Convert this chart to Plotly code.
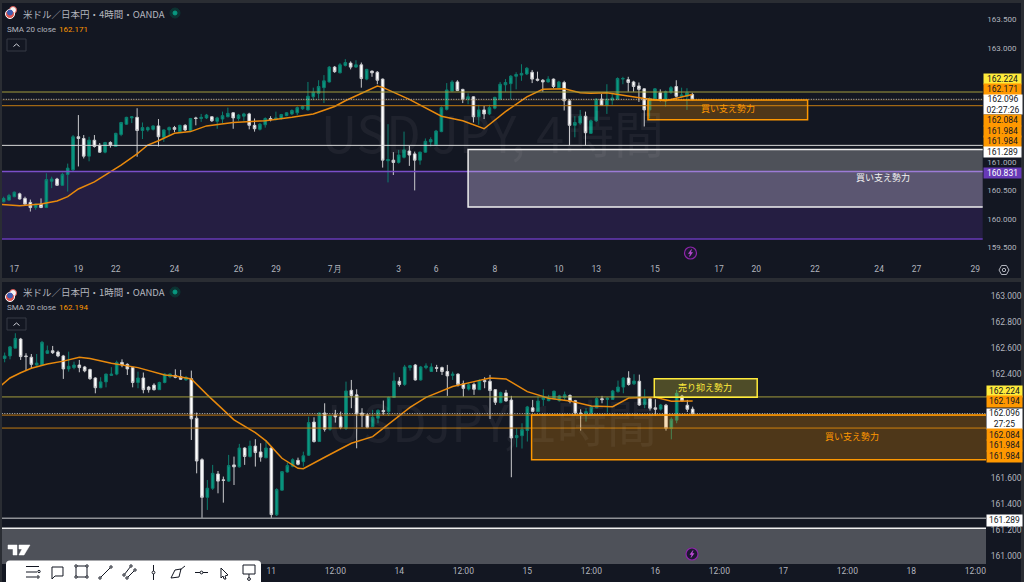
import plotly.graph_objs as go

# 4時間足
open_4h = [160.30,160.33,160.39,160.44,160.36,160.29,160.20,160.26,160.20,160.66,
           160.70,160.59,160.78,160.86,161.44,161.41,161.10,161.38,161.29,161.17,
           161.34,161.27,161.48,161.66,161.77,161.78,161.55,161.56,161.57,161.63,
           161.43,161.56,161.60,161.53,161.64,161.55,161.77,161.76,161.77,161.79,
           161.71,161.75,161.79,161.86,161.76,161.80,161.84,161.64,161.57,161.65,
           161.76,161.74,161.76,161.81,161.84,161.86,161.93,161.91,162.14,162.20,
           162.30,162.40,162.66,162.56,162.69,162.73,162.66,162.70,162.45,162.59,
           162.57,162.45,161.02,161.03,160.99,161.08,161.19,161.14,161.03,161.17,
           161.35,161.30,161.53,161.92,162.24,162.40,162.27,162.10,162.14,161.79,
           161.91,161.84,161.94,162.10,162.35,162.37,162.50,162.52,162.54,162.57,
           162.45,162.43,162.40,162.45,162.30,162.39,162.07,161.64,161.68,161.80,
           161.50,161.72,162.10,161.99,162.08,162.10,162.45,162.44,162.40,162.33,
           162.28,161.91,162.11,162.21,162.08,162.22,162.32,162.15,162.15,162.18]
close_4h = [160.36,160.41,160.47,160.35,160.26,160.20,160.26,160.20,160.69,160.70,
            160.59,160.78,160.89,161.44,161.41,161.10,161.38,161.27,161.17,161.34,
            161.30,161.50,161.69,161.78,161.79,161.55,161.60,161.60,161.63,161.44,
            161.56,161.60,161.57,161.64,161.56,161.76,161.76,161.78,161.82,161.72,
            161.77,161.81,161.85,161.77,161.82,161.84,161.64,161.58,161.66,161.76,
            161.74,161.77,161.83,161.86,161.90,161.95,161.97,162.15,162.22,162.32,
            162.42,162.66,162.58,162.70,162.74,162.66,162.70,162.46,162.62,162.56,
            162.43,161.03,161.04,160.99,161.12,161.21,161.12,161.03,161.17,161.36,
            161.39,161.54,161.95,162.26,162.40,162.25,162.10,162.14,161.79,161.91,
            161.84,161.95,162.13,162.36,162.39,162.50,162.53,162.55,162.64,162.45,
            162.43,162.40,162.45,162.32,162.40,162.07,161.64,161.69,161.80,161.51,
            161.72,162.10,161.99,162.10,162.12,162.46,162.46,162.39,162.32,162.27,
            161.91,162.11,162.28,162.08,162.23,162.30,162.15,162.17,162.21,162.096]
high_4h = [160.39,160.44,160.48,160.46,160.39,160.34,160.27,160.36,160.80,160.74,
           160.72,160.81,160.97,161.47,161.82,161.47,161.44,161.47,161.33,161.35,
           161.36,161.51,161.70,161.79,161.80,161.94,161.69,161.62,161.64,161.75,
           161.57,161.62,161.63,161.65,161.66,161.77,161.79,161.84,161.84,161.80,
           161.79,161.88,161.95,161.87,161.84,161.86,161.86,161.76,161.68,161.78,
           161.80,161.88,161.84,161.87,161.92,161.97,161.99,162.40,162.30,162.43,
           162.52,162.68,162.68,162.73,162.80,162.76,162.78,162.74,162.63,162.60,
           162.59,162.46,161.66,161.17,161.21,161.53,161.28,161.18,161.18,161.41,
           161.43,161.56,161.97,162.38,162.43,162.43,162.28,162.20,162.15,162.00,
           161.98,162.00,162.14,162.40,162.45,162.52,162.57,162.71,162.66,162.61,
           162.58,162.45,162.50,162.46,162.42,162.42,162.10,161.80,161.91,161.88,
           161.74,162.11,162.19,162.36,162.20,162.48,162.49,162.49,162.42,162.39,
           162.29,162.13,162.29,162.27,162.25,162.33,162.43,162.30,162.29,162.21]
low_4h = [160.29,160.32,160.38,160.34,160.25,160.13,160.16,160.19,160.19,160.54,
          160.58,160.58,160.48,160.83,160.92,161.06,161.01,161.25,161.16,161.15,
          161.25,161.26,161.45,161.65,161.68,161.09,161.40,161.53,161.55,161.27,
          161.35,161.47,161.52,161.52,161.54,161.54,161.64,161.70,161.75,161.70,
          161.58,161.68,161.78,161.58,161.72,161.72,161.57,161.53,161.55,161.60,
          161.71,161.73,161.74,161.80,161.82,161.82,161.91,161.90,162.08,162.11,
          162.03,162.39,162.56,162.55,162.67,162.62,162.65,162.30,162.43,162.49,
          162.36,160.90,160.64,160.77,160.97,161.06,160.93,160.50,160.95,161.16,
          161.27,161.30,161.52,161.90,162.23,162.24,162.03,162.01,161.69,161.65,
          161.75,161.82,161.92,162.08,162.23,162.10,162.27,162.42,162.52,162.38,
          162.41,162.23,162.39,162.29,162.29,161.90,161.29,161.43,161.65,161.29,
          161.49,161.70,161.98,161.84,162.00,162.08,162.36,162.23,162.23,162.05,
          161.62,161.76,162.08,162.06,161.97,162.19,162.13,162.13,161.91,162.08]
sma_x_4h = [-1,3,7,10,12,14,17,20,22,25,27,29,32,35,38,43,46,49,54,58,62,64,70,71,76,82,
            86,90,94,98,101,105,108,110,113,115,120,124,127,129]
sma_4h = [160.26,160.23,160.26,160.315,160.39,160.525,160.65,160.82,160.945,161.14,161.295,
          161.37,161.50,161.53,161.63,161.69,161.70,161.72,161.78,161.84,161.97,162.07,
          162.33,162.305,162.095,161.80,161.72,161.58,161.88,162.14,162.27,162.28,162.21,
          162.20,162.21,162.18,162.11,162.07,162.13,162.18]

# 1時間足
open_1h = [162.52,162.54,162.60,162.67,162.54,162.53,162.47,162.47,162.56,162.58,
           162.57,162.54,162.44,162.45,162.47,162.455,162.435,162.37,162.295,162.34,
           162.39,162.40,162.49,162.475,162.45,162.335,162.37,162.30,162.315,162.28,
           162.335,162.38,162.39,162.38,162.355,162.365,162.06,161.74,161.45,161.52,
           161.63,161.585,161.575,161.70,161.685,161.83,161.765,161.845,161.80,161.755,
           161.83,161.315,161.505,161.645,161.69,161.735,161.725,161.775,162.03,161.88,
           162.10,161.975,162.085,162.07,161.98,162.275,162.24,162.10,162.085,161.995,
           162.06,162.12,162.11,162.22,162.345,162.32,162.45,162.47,162.355,162.45,
           162.42,162.45,162.45,162.42,162.39,162.40,162.325,162.285,162.32,162.28,
           162.35,162.345,162.28,162.18,162.255,162.20,161.91,161.925,161.965,162.14,
           162.11,162.205,162.195,162.21,162.195,162.22,162.235,162.195,162.10,162.10,
           162.10,162.14,162.21,162.205,162.205,162.265,162.30,162.37,162.325,162.345,
           162.165,162.21,162.14,162.13,162.16,161.98,162.045,162.23,162.16,162.13]
close_1h = [162.54,162.61,162.675,162.535,162.535,162.475,162.485,162.645,162.58,162.565,
            162.54,162.44,162.46,162.47,162.45,162.425,162.365,162.295,162.34,162.40,
            162.40,162.49,162.47,162.44,162.335,162.37,162.28,162.28,162.28,162.335,
            162.40,162.40,162.375,162.36,162.375,162.055,161.73,161.45,161.52,161.635,
            161.575,161.58,161.695,161.685,161.83,161.765,161.845,161.795,161.76,161.83,
            161.317,161.51,161.648,161.695,161.74,161.705,161.77,162.026,161.88,162.10,
            161.975,162.08,162.07,161.99,162.27,162.235,162.093,162.08,161.99,162.067,
            162.12,162.11,162.22,162.347,162.32,162.455,162.465,162.355,162.455,162.463,
            162.455,162.445,162.42,162.386,162.40,162.32,162.29,162.317,162.283,162.347,
            162.342,162.273,162.183,162.257,162.193,161.908,161.926,161.972,162.147,162.113,
            162.193,162.221,162.216,162.268,162.232,162.24,162.188,162.10,162.095,162.11,
            162.144,162.211,162.203,162.214,162.27,162.30,162.37,162.32,162.347,162.162,
            162.209,162.137,162.129,162.162,161.982,162.052,162.252,162.193,162.129,162.096]
high_1h = [162.566,162.617,162.715,162.679,162.561,162.555,162.555,162.656,162.62,162.617,
           162.581,162.548,162.573,162.496,162.509,162.463,162.442,162.376,162.376,162.404,
           162.453,162.504,162.514,162.483,162.453,162.419,162.412,162.309,162.329,162.342,
           162.406,162.406,162.437,162.432,162.386,162.427,162.103,161.751,161.584,161.70,
           161.653,161.61,161.777,161.764,161.862,161.836,161.887,161.898,161.867,161.892,
           161.841,161.52,161.653,161.718,161.751,161.756,161.802,162.072,162.067,162.103,
           162.175,162.085,162.124,162.111,162.342,162.355,162.283,162.137,162.093,162.124,
           162.129,162.196,162.226,162.412,162.376,162.471,162.471,162.478,162.463,162.483,
           162.483,162.471,162.458,162.471,162.419,162.406,162.35,162.334,162.334,162.36,
           162.376,162.394,162.283,162.265,162.278,162.232,161.982,162.021,162.155,162.201,
           162.226,162.283,162.24,162.273,162.24,162.265,162.244,162.201,162.129,162.137,
           162.155,162.221,162.232,162.221,162.278,162.35,162.376,162.422,162.399,162.396,
           162.283,162.221,162.206,162.17,162.17,162.067,162.278,162.24,162.201,162.149]
low_1h = [162.491,162.514,162.599,162.509,162.427,162.445,162.463,162.465,162.555,162.555,
          162.53,162.363,162.419,162.437,162.414,162.414,162.355,162.252,162.291,162.298,
          162.393,162.391,162.453,162.393,162.298,162.291,162.252,162.257,162.273,162.278,
          162.329,162.368,162.368,162.355,162.35,161.892,161.635,161.286,161.353,161.507,
          161.481,161.409,161.569,161.545,161.679,161.70,161.756,161.687,161.725,161.751,
          161.286,161.306,161.502,161.641,161.682,161.697,161.687,161.769,161.872,161.877,
          161.957,161.964,162.026,161.975,161.969,162.137,161.828,161.99,161.982,161.99,
          162.021,162.085,162.077,162.216,162.304,162.309,162.427,162.35,162.35,162.437,
          162.417,162.417,162.393,162.232,162.355,162.304,162.226,162.273,162.24,162.278,
          162.291,162.054,162.162,162.175,162.188,161.605,161.836,161.826,161.88,162.106,
          162.108,162.155,162.191,162.206,162.188,162.196,162.175,162.085,161.964,162.034,
          162.093,162.137,162.175,162.103,162.201,162.257,162.252,162.311,162.316,162.155,
          162.137,162.119,162.077,162.119,161.964,161.897,162.021,162.185,162.108,162.083]
sma_x_1h = [-1,1,3,5,8,11,14,16,20,25,30,32,35,38,43,47,49,52,55,56,60,63,65,69,76,79,84,
            88,91,94,98,102,106,110,114,117,122,125,129]
sma_1h = [162.30,162.37,162.41,162.445,162.478,162.50,162.53,162.52,162.483,162.45,162.393,
          162.386,162.363,162.24,162.047,161.949,161.885,161.751,161.674,161.671,161.759,
          161.82,161.867,161.918,162.144,162.221,162.304,162.342,162.37,162.363,162.265,
          162.214,162.193,162.155,162.149,162.216,162.221,162.19,162.193]

tick_x_4h = [2,14,21,32,44,51,62,74,81,92,104,111,122,134,141,152,164,171,182]
tick_text_4h = ['17','19','22','24','26','29','7月','3','6','8','10','13','15','17','20','22','24','27','29']
tick_x_1h = [50,62,74,86,98,110,122,134,146,158,170,182]
tick_text_1h = ['11','12:00','14','12:00','15','12:00','16','12:00','17','12:00','18','12:00']
# 価格タグに隠れる目盛りは出さない
price_ticks_4h = [163.5,163.0,161.0,160.5,160.0,159.5]
price_ticks_1h = [163.0,162.8,162.6,162.4,161.6,161.4,161.2,161.0]

BG = '#131722'
GREEN = '#089981'
GREY = '#b2b5be'
ORANGE = '#ff9800'
YELLOW = '#ffeb3b'
PURPLE = '#673ab7'
JP = 'Noto Sans CJK JP'


def px(x):
    return x / 1024


def py(y):
    return 1 - y / 582


def pane_shape(x0, y0, x1, y1, color):
    return dict(type='rect', xref='paper', yref='paper', x0=px(x0), x1=px(x1), y0=py(y0), y1=py(y1),
                fillcolor=color, line=dict(width=0), layer='below')


def hline(axis, price, color, width=1, dash='solid', end=None):
    x = 'x' if axis == 1 else 'x2'
    y = 'y' if axis == 1 else 'y2'
    return dict(type='line', xref=x, yref=y, x0=-1, x1=end or 185, y0=price, y1=price,
                line=dict(color=color, width=width, dash=dash))


def box(axis, x0, x1, top, bottom, fill, border, width=1.5):
    x = 'x' if axis == 1 else 'x2'
    y = 'y' if axis == 1 else 'y2'
    return dict(type='rect', xref=x, yref=y, x0=x0, x1=x1, y0=bottom, y1=top,
                fillcolor=fill, line=dict(color=border, width=width))


def icon(d, color='#131722', width=1, fill=None):
    # d is a list of pixel points, path is drawn in paper coords
    path = 'M ' + ' L '.join(f'{px(a):.5f} {py(b):.5f}' for a, b in d)
    return dict(type='path', xref='paper', yref='paper', path=path, fillcolor=fill,
                line=dict(color=color, width=width))


def dot(x, y, r, fill, border=None, width=1):
    return dict(type='circle', xref='paper', yref='paper', x0=px(x - r), x1=px(x + r),
                y0=py(y + r), y1=py(y - r), fillcolor=fill,
                line=dict(color=border or fill, width=width))


def bolt(x, y):
    pts = [(1, -3.5), (-2, 0.5), (0, 0.5), (-1, 3.5), (2, -0.5), (0, -0.5), (1, -3.5)]
    return icon([(x + a, y + b) for a, b in pts], '#c850e0', 0.5, '#c850e0')


def candles(x, y, o, h, l, c):
    return go.Candlestick(x=list(range(len(o))), open=o, high=h, low=l, close=c,
                          xaxis=x, yaxis=y, whiskerwidth=0, showlegend=False,
                          increasing=dict(fillcolor=GREEN, line=dict(color='#0c7d6e', width=1)),
                          decreasing=dict(fillcolor='#ffffff', line=dict(color='#c9cacd', width=1)))


def tag(y0, y1, text, bg, fg='#131722', x0=983, x1=1020):
    return dict(xref='paper', yref='paper', x=px(x0), y=py(y0), xanchor='left', yanchor='top',
                width=x1 - x0, height=y1 - y0, text=text, showarrow=False, bgcolor=bg, borderpad=0,
                font=dict(family='Roboto', size=8.5, color=fg), align='center', valign='middle')


def label(x, y, text, color, size=9, family=JP, anchor='left'):
    return dict(xref='paper', yref='paper', x=px(x), y=py(y), xanchor=anchor, yanchor='middle',
                text=text, showarrow=False, font=dict(family=family, size=size, color=color))


fig_data = [
    candles('x', 'y', open_4h, high_4h, low_4h, close_4h),
    go.Scatter(x=sma_x_4h, y=sma_4h, mode='lines', xaxis='x', yaxis='y', showlegend=False,
               line=dict(color='#e8890c', width=1.5)),
    candles('x2', 'y2', open_1h, high_1h, low_1h, close_1h),
    go.Scatter(x=sma_x_1h, y=sma_1h, mode='lines', xaxis='x2', yaxis='y2', showlegend=False,
               line=dict(color='#e8890c', width=1.5)),
]

shapes = [
    pane_shape(2, 3, 1021, 278, BG),
    pane_shape(2, 282, 1021, 582, BG),
    # 紫のゾーン
    dict(type='rect', xref='x', yref='y', x0=-1, x1=185, y0=159.65, y1=160.831, fillcolor='#251e42',
         line=dict(width=0), layer='below'),
    hline(1, 160.831, '#7b4fc9', 1.5),
    hline(1, 159.65, PURPLE, 1.5),
    hline(1, 162.224, '#a39c3c'),
    hline(1, 162.084, 'rgba(194,122,18,0.5)', 0.7),
    hline(1, 162.096, '#bdbdbd', 1, '1px,1.5px'),
    hline(1, 161.984, '#c27a12'),
    hline(1, 161.289, '#d8d8d8'),
    box(1, 120.7, 150.6, 162.084, 161.74, 'rgba(255,152,0,0.25)', ORANGE),
    box(1, 87, 185, 161.216, 160.21, 'rgba(255,255,255,0.25)', '#f0f0f0'),
    hline(2, 162.224, '#a39c3c'),
    hline(2, 162.096, '#bdbdbd', 1, '1px,1.5px'),
    hline(2, 162.084, '#c27a12'),
    hline(2, 161.984, '#c27a12'),
    hline(2, 161.289, '#8f9196', 1.5),
    box(2, 98.8, 185, 162.084, 161.74, 'rgba(255,152,0,0.25)', ORANGE),
    box(2, 121.8, 141.1, 162.365, 162.221, 'rgba(255,235,59,0.25)', YELLOW),
    box(2, -1, 185, 161.211, 160.9, 'rgba(255,255,255,0.25)', '#f0f0f0'),
    # ヘッダーのアイコン
    dot(13, 10, 3.5, '#f5f5f5', '#d9534f'),
    dot(10, 14, 4.5, '#d9534f', '#ffffff'),
    dot(10, 12.5, 2.5, '#3b5db5'),
    dot(13, 293, 3.5, '#f5f5f5', '#d9534f'),
    dot(10, 297, 4.5, '#d9534f', '#ffffff'),
    dot(10, 295.5, 2.5, '#3b5db5'),
    dot(175, 13, 5, '#0c3433'),
    dot(175, 13, 2, GREEN),
    dot(175, 292, 5, '#0c3433'),
    dot(175, 292, 2, GREEN),
    # 折りたたみボタン
    dict(type='rect', xref='paper', yref='paper', x0=px(7), x1=px(26), y0=py(51), y1=py(39),
         line=dict(color='#363a45', width=1)),
    icon([(13.5, 46.5), (16.5, 44), (19.5, 46.5)], '#d1d4dc'),
    dict(type='rect', xref='paper', yref='paper', x0=px(7), x1=px(26), y0=py(330), y1=py(318),
         line=dict(color='#363a45', width=1)),
    icon([(13.5, 325.5), (16.5, 323), (19.5, 325.5)], '#d1d4dc'),
    # 稲妻アイコン
    dot(690.5, 253, 6, '#1c1830', '#8e24aa', 1.2),
    bolt(690.5, 253),
    dot(692, 554, 6, '#1c1830', '#8e24aa', 1.2),
    bolt(692, 554),
    # 設定アイコン
    icon([(999, 270), (1001.5, 265.5), (1006.5, 265.5), (1009, 270), (1006.5, 274.5), (1001.5, 274.5), (999, 270)],
         '#b2b5be'),
    dot(1004, 270, 1.7, BG, '#b2b5be'),
    # TVロゴ
    icon([(8, 545), (17, 545), (17, 555), (13, 555), (13, 549), (8, 549), (8, 545)], '#ffffff', 0.5, '#ffffff'),
    icon([(19, 545), (30, 545), (24, 555), (19, 555), (22, 549), (19, 549), (19, 545)], '#ffffff', 0.5, '#ffffff'),
    # 描画ツールバー
    dict(type='path', xref='paper', yref='paper', fillcolor='#ffffff', line=dict(width=0),
         path=f'M {px(6)} {py(582)} L {px(6)} {py(564)} Q {px(6)} {py(560.5)} {px(10)} {py(560.5)} '
              f'L {px(257)} {py(560.5)} Q {px(261)} {py(560.5)} {px(261)} {py(564)} L {px(261)} {py(582)} Z'),
    icon([(26, 566.5), (39, 566.5)]), icon([(26, 572), (37, 572)]), icon([(26, 577), (36, 577)]),
    dot(39, 571.5, 1.2, '#ffffff', '#131722'), dot(38, 577, 1.2, '#ffffff', '#131722'),
    icon([(52, 567), (63, 567), (63, 576), (55, 576), (52, 579), (52, 567)]),
    dict(type='rect', xref='paper', yref='paper', x0=px(76), x1=px(87), y0=py(577), y1=py(566),
         line=dict(color='#131722', width=1)),
    dot(76, 566, 1.2, '#ffffff', '#131722'), dot(87, 566, 1.2, '#ffffff', '#131722'),
    dot(76, 577, 1.2, '#ffffff', '#131722'), dot(87, 577, 1.2, '#ffffff', '#131722'),
    icon([(100, 578), (111, 567)]), dot(100, 578, 1.2, '#ffffff', '#131722'), dot(111, 567, 1.2, '#ffffff', '#131722'),
    icon([(124, 575), (131, 566)]), icon([(127, 578), (135, 570)]),
    dot(124, 575, 1.2, '#ffffff', '#131722'), dot(131, 566, 1.2, '#ffffff', '#131722'),
    dot(127, 578, 1.2, '#ffffff', '#131722'), dot(135, 570, 1.2, '#ffffff', '#131722'),
    icon([(153.5, 565), (153.5, 580)]), dot(153.5, 572.5, 1.4, '#ffffff', '#131722'),
    icon([(171, 578), (175, 570), (181, 569), (179, 577), (171, 578)]), icon([(180, 570), (185, 566)]),
    icon([(195, 572.5), (208, 572.5)]), dot(201.5, 572.5, 1.4, '#ffffff', '#131722'),
    icon([(221, 568), (228, 575), (225, 576), (226, 579), (224, 579), (223, 576), (221, 578), (221, 568)]),
    dict(type='rect', xref='paper', yref='paper', x0=px(243), x1=px(255), y0=py(574), y1=py(565),
         line=dict(color='#131722', width=1)),
    icon([(249, 574), (249, 578)]), dot(249, 579, 1.4, '#ffffff', '#131722'),
]

annotations = [
    # ウォーターマーク
    dict(xref='paper', yref='paper', x=px(492), y=py(131), xanchor='center', yanchor='middle', showarrow=False,
         text='USD JPY, 4時間', font=dict(family=JP, size=50, color='rgba(255,255,255,0.05)')),
    dict(xref='paper', yref='paper', x=px(492), y=py(420), xanchor='center', yanchor='middle', showarrow=False,
         text='USDJPY, 1時間', font=dict(family=JP, size=50, color='rgba(255,255,255,0.05)')),
    label(21, 14, '米ドル／日本円・4時間・OANDA', GREY, 9.5),
    label(5, 29.5, 'SMA 20 close', GREY, 8, 'Roboto'),
    label(57, 29.5, '162.171', ORANGE, 8, 'Roboto'),
    label(21, 292, '米ドル／日本円・1時間・OANDA', GREY, 9.5),
    label(5, 307.5, 'SMA 20 close', GREY, 8, 'Roboto'),
    label(57, 307.5, '162.194', ORANGE, 8, 'Roboto'),
    dict(xref='x', yref='y', x=135.6, y=161.94, text='買い支え勢力', showarrow=False,
         font=dict(family=JP, size=9, color=ORANGE)),
    dict(xref='x', yref='y', x=164.7, y=160.72, text='買い支え勢力', showarrow=False,
         font=dict(family=JP, size=9, color='#f2f2f2')),
    dict(xref='x2', yref='y2', x=158.9, y=161.917, text='買い支え勢力', showarrow=False,
         font=dict(family=JP, size=9, color=ORANGE)),
    dict(xref='x2', yref='y2', x=131.3, y=162.30, text='売り抑え勢力', showarrow=False,
         font=dict(family=JP, size=9, color=YELLOW)),
    # 価格タグ
    tag(72.7, 83, '162.224', YELLOW),
    tag(83, 93.7, '162.171', ORANGE),
    tag(93.7, 113, '162.096<br>02:27:26', '#ffffff', x1=1021),
    tag(114, 124.5, '162.084', ORANGE),
    tag(124.5, 135, '161.984', ORANGE),
    tag(135, 145.7, '161.984', ORANGE),
    tag(145.7, 156, '161.289', '#ffffff'),
    tag(166.7, 176.7, '160.831', PURPLE, '#ffffff'),
    tag(384.7, 395.3, '162.224', YELLOW, x0=986, x1=1021),
    tag(395.3, 406, '162.194', ORANGE, x0=986, x1=1021),
    tag(408, 427.7, '162.096<br>27:25', '#ffffff', x0=986, x1=1021),
    tag(428, 439, '162.084', ORANGE, x0=986, x1=1021),
    tag(439, 449.7, '161.984', ORANGE, x0=986, x1=1021),
    tag(449.7, 460.3, '161.984', ORANGE, x0=986, x1=1021),
    tag(513.7, 524.3, '161.289', '#ffffff', x0=986, x1=1021),
]


def x_axis(domain, anchor, rng, vals, text):
    return dict(domain=domain, anchor=anchor, range=rng, tickvals=vals, ticktext=text, showgrid=False,
                zeroline=False, showline=False, ticks='', rangeslider=dict(visible=False),
                tickfont=dict(family='Roboto', size=8.5, color=GREY), tickangle=0)


def y_axis(domain, anchor, rng, vals, size):
    return dict(domain=domain, anchor=anchor, range=rng, side='right', tickvals=vals,
                ticktext=[f'{v:.3f}' for v in vals], showgrid=False, zeroline=False, showline=False,
                ticks='outside', ticklen=2, tickcolor='rgba(0,0,0,0)',
                tickfont=dict(family='Roboto', size=size, color=GREY))


mylayout = go.Layout(width=1024, height=582, autosize=False, margin=dict(l=0, r=0, t=0, b=0, pad=0),
                     paper_bgcolor='#2a2d33', plot_bgcolor=BG, showlegend=False, dragmode=False,
                     xaxis=x_axis([px(2), px(982.7)], 'y', [-0.31, 183.4], tick_x_4h, tick_text_4h),
                     yaxis=y_axis([py(262), py(3)], 'x', [159.246, 163.783], price_ticks_4h, 8),
                     xaxis2=x_axis([px(2), px(986)], 'y2', [-0.5, 184.0], tick_x_1h, tick_text_1h),
                     yaxis2=y_axis([py(564), py(282)], 'x2', [160.936, 163.110], price_ticks_1h, 8.5),
                     shapes=shapes, annotations=annotations)

fig = go.Figure(data=fig_data, layout=mylayout)
fig.write_html("out.html", config=dict(displayModeBar=False),
               post_script="document.body.style.margin='0';document.body.style.overflow='hidden';")
